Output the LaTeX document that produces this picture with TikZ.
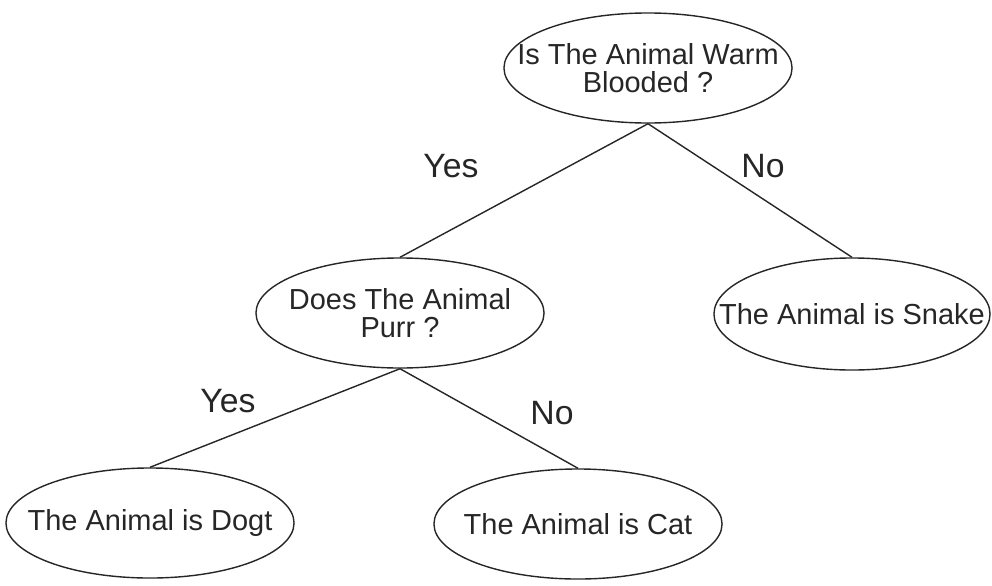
\documentclass[tikz,border=0pt]{standalone}
\usepackage{fontspec}
\setmainfont{Liberation Sans}
\usetikzlibrary{shapes.geometric}
\tikzset{
  question/.style={draw=black!85, line width=1pt, ellipse, inner sep=0pt,
    minimum width=7.2cm, minimum height=2.75cm},
  qtext/.style={align=center, inner sep=0pt, text=black!85,
    font=\fontsize{20.6}{20}\selectfont},
  answer/.style={text=black!85, font=\fontsize{24}{24}\selectfont},
  branch/.style={draw=black!85, line width=1pt}
}

\begin{document}
\begin{tikzpicture}[x=0.025cm, y=-0.025cm]
		%%%%% START %%%%%
		\useasboundingbox (0, 0) rectangle (992, 585);
		
		\node[question, label={[qtext]center:Is The Animal Warm\\Blooded ?}] (warm) at (648, 68) {};
		\node[question, label={[qtext]center:Does The Animal\\Purr ?}] (purr) at (400, 313) {};
		\node[question, minimum width=6.9cm, minimum height=2.8cm,
		  label={[qtext]center:The Animal is Snake}] (snake) at (852, 314) {};
		\node[question, label={[qtext]center:The Animal is Dogt}] (dog) at (150, 523) {};
		\node[question, label={[qtext]center:The Animal is Cat}] (cat) at (578, 524) {};
		
		\draw[branch] (warm.south) -- (purr.north);
		\draw[branch] (warm.south) -- (snake.north);
		\draw[branch] (purr.south) -- (dog.north);
		\draw[branch] (purr.south) -- (cat.north);
		
		\node[answer] (yes1) at (451, 166) {Yes};
		\node[answer] (no1) at (763, 166) {No};
		\node[answer] (yes2) at (228, 401) {Yes};
		\node[answer] (no2) at (552, 413) {No};
		%%%%% END %%%%%
	\end{tikzpicture}
\end{document}
